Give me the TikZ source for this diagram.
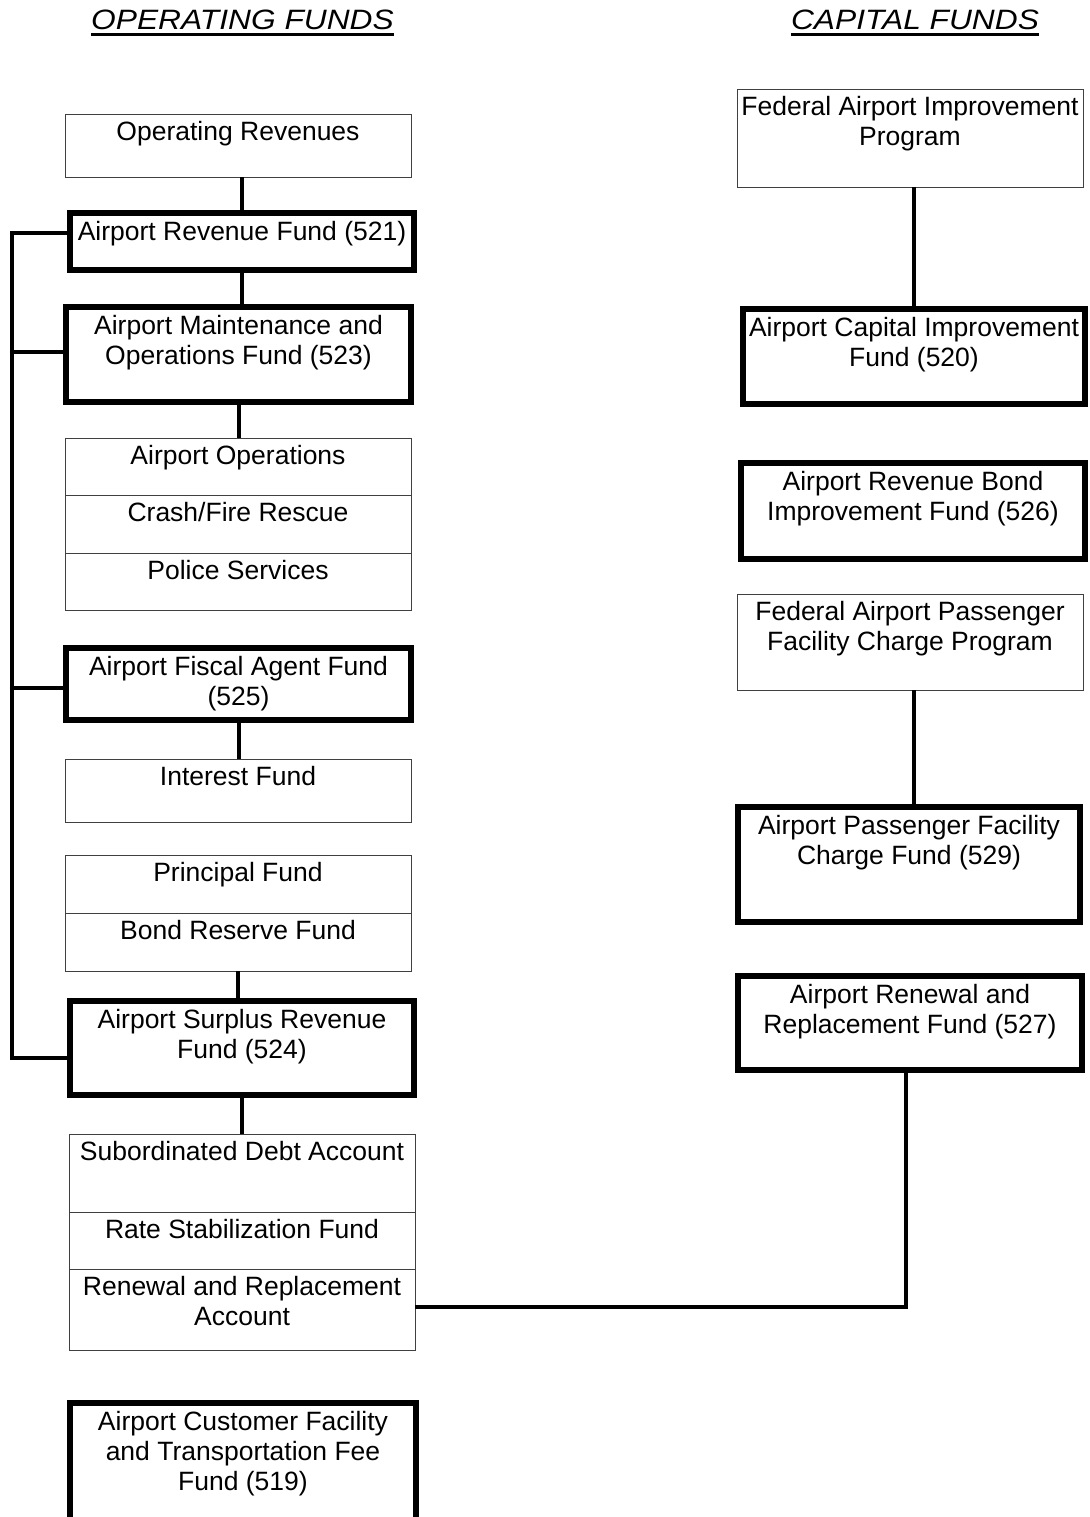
\documentclass[tikz,border=0pt]{standalone}
\usepackage{fontspec}
\setmainfont{Liberation Sans}
\usetikzlibrary{fit}
\newcommand\myst{\rule{0pt}{13pt}}
\begin{document}
\begin{tikzpicture}[x=0.5pt,y=-0.5pt,
  thinbox/.style={draw=black!75, line width=0.5pt, inner sep=0pt, outer sep=0pt},
  thickbox/.style={draw=black, line width=2.75pt, inner sep=0pt, outer sep=0pt},
  lbl/.style={anchor=north, inner sep=0pt, align=center, font=\fontsize{13.25}{15}\selectfont},
  lblk/.style={lbl, yshift=-0.75pt},
  conn/.style={draw=black, line width=2pt},
  titletext/.style={anchor=base, inner sep=0pt, font=\fontsize{14}{16}\selectfont\itshape},
  uline/.style={draw=black, line width=1.25pt}]
\useasboundingbox (0,0) rectangle (1089,1517);
\clip (0,0) rectangle (1089,1517);

% titles
\node[titletext] (t1) at (242.5,29) {\scalebox{1.133}[1]{OPERATING FUNDS}};
\draw[uline] ([yshift=-2.75pt]t1.base west) -- ([yshift=-2.75pt]t1.base east);
\node[titletext] (t2) at (915,29) {\scalebox{1.133}[1]{CAPITAL FUNDS}};
\draw[uline] ([yshift=-2.75pt]t2.base west) -- ([yshift=-2.75pt]t2.base east);

% left column
\node[thinbox, fit={(65,114) (411,177)}] (opr) {};
\node[lbl] at (opr.north) {\myst Operating Revenues};

\node[thickbox, fit={(70,213) (414,270)}] (rf) {};
\node[lblk] at (rf.north) {\myst Airport Revenue Fund (521)};

\node[thickbox, fit={(66,307) (411,402)}] (mo) {};
\node[lblk] at (mo.north) {\myst Airport Maintenance and\\Operations Fund (523)};

\node[thinbox, fit={(65,438) (411,495)}] (ops1) {};
\node[lbl] at (ops1.north) {\myst Airport Operations};
\node[thinbox, fit={(65,495) (411,553)}] (ops2) {};
\node[lbl] at (ops2.north) {\myst Crash/Fire Rescue};
\node[thinbox, fit={(65,553) (411,610)}] (ops3) {};
\node[lbl] at (ops3.north) {\myst Police Services};

\node[thickbox, fit={(66,648) (411,720)}] (fa) {};
\node[lblk] at (fa.north) {\myst Airport Fiscal Agent Fund\\(525)};

\node[thinbox, fit={(65,759) (411,822)}] (int) {};
\node[lbl] at (int.north) {\myst Interest Fund};

\node[thinbox, fit={(65,855) (411,913)}] (pb1) {};
\node[lbl] at (pb1.north) {\myst Principal Fund};
\node[thinbox, fit={(65,913) (411,971)}] (pb2) {};
\node[lbl] at (pb2.north) {\myst Bond Reserve Fund};

\node[thickbox, fit={(70,1001) (414,1095)}] (sr) {};
\node[lblk] at (sr.north) {\myst Airport Surplus Revenue\\Fund (524)};

\node[thinbox, fit={(69,1134) (415,1212)}] (sub1) {};
\node[lbl] at (sub1.north) {\myst Subordinated Debt Account};
\node[thinbox, fit={(69,1212) (415,1269)}] (sub2) {};
\node[lbl] at (sub2.north) {\myst Rate Stabilization Fund};
\node[thinbox, fit={(69,1269) (415,1350)}] (sub3) {};
\node[lbl] at (sub3.north) {\myst Renewal and Replacement\\Account};

\node[thickbox, fit={(70,1403) (416,1540)}] (cf) {};
\node[lblk] at (cf.north) {\myst Airport Customer Facility\\and Transportation Fee\\Fund (519)};

% right column
\node[thinbox, fit={(737,89) (1083,187)}] (fai) {};
\node[lbl] at (fai.north) {\myst Federal Airport Improvement\\Program};

\node[thickbox, fit={(743,309) (1085,404)}] (ci) {};
\node[lblk] at (ci.north) {\myst Airport Capital Improvement\\Fund (520)};

\node[thickbox, fit={(741,463) (1085,559)}] (rb) {};
\node[lblk] at (rb.north) {\myst Airport Revenue Bond\\Improvement Fund (526)};

\node[thinbox, fit={(737,594) (1083,690)}] (fpfc) {};
\node[lbl] at (fpfc.north) {\myst Federal Airport Passenger\\Facility Charge Program};

\node[thickbox, fit={(738,807) (1080,922)}] (pfc) {};
\node[lblk] at (pfc.north) {\myst Airport Passenger Facility\\Charge Fund (529)};

\node[thickbox, fit={(738,976) (1082,1070)}] (rr) {};
\node[lblk] at (rr.north) {\myst Airport Renewal and\\Replacement Fund (527)};

% connectors, left
\draw[conn] (rf.north |- opr.south) -- (rf.north);
\draw[conn] (rf.south) -- (rf.south |- mo.north);
\draw[conn] (mo.south) -- (mo.south |- ops1.north);
\draw[conn] (fa.south) -- (fa.south |- int.north);
\draw[conn] (pb2.south) -- (pb2.south |- sr.north);
\draw[conn] (sr.south) -- (sr.south |- sub1.north);

% bus
\coordinate (busA) at (12,233);
\coordinate (busB) at (12,352);
\coordinate (busC) at (12,688);
\coordinate (busD) at (12,1058);
\draw[conn, line join=miter] (rf.west |- busA) -- (busA) -- (busD) -- (sr.west |- busD);
\draw[conn] (busB) -- (mo.west |- busB);
\draw[conn] (busC) -- (fa.west |- busC);

% connectors, right
\draw[conn] (ci.north |- fai.south) -- (ci.north);
\coordinate (pfcx) at (914,0);
\draw[conn] (fpfc.south -| pfcx) -- (pfc.north -| pfcx);
\coordinate (rrx) at (906,1307);
\draw[conn, line join=miter] (sub3.east |- rrx) -- (rrx) -- (rr.south -| rrx);
\end{tikzpicture}
\end{document}
